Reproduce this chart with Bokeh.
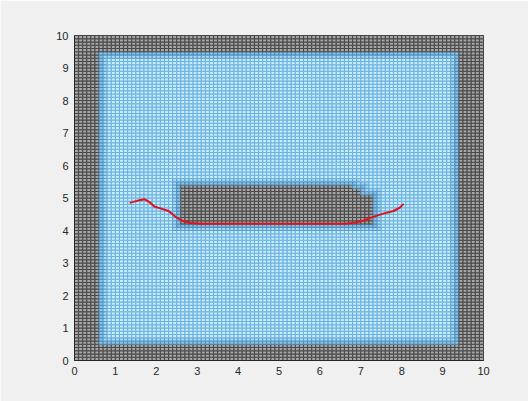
import numpy as np
from bokeh.plotting import figure
from bokeh.models import Range1d, FixedTicker, ColumnDataSource
from bokeh.embed import file_html
from bokeh.resources import INLINE

# ---- data ----
x_ticks = [0, 1, 2, 3, 4, 5, 6, 7, 8, 9, 10]
y_ticks = [0, 1, 2, 3, 4, 5, 6, 7, 8, 9, 10]
map_size = 10.0
cell_size = 0.1

# occupied (wall) band around the map: limits of free space
free_x = [0.6, 9.4]
free_y = [0.5, 9.5]

# obstacle blocks (x0, x1, y0, y1)
obstacles = [
    (2.6, 6.8, 4.2, 5.4),
    (6.8, 7.3, 4.2, 5.1),
    (6.8, 7.0, 5.1, 5.3),
]

# planned path
path_x = [1.35, 1.55, 1.72, 1.85, 1.95, 2.10, 2.30, 2.47, 2.65, 2.85, 3.10,
          3.60, 4.20, 4.80, 5.40, 6.00, 6.60, 6.85, 7.05, 7.30, 7.55, 7.80, 7.95, 8.05]
path_y = [4.85, 4.92, 4.96, 4.86, 4.74, 4.68, 4.60, 4.42, 4.29, 4.23, 4.21,
          4.21, 4.21, 4.21, 4.21, 4.21, 4.21, 4.24, 4.30, 4.42, 4.52, 4.60, 4.70, 4.82]

# colours
face_free, line_free = "#c6edfc", "#6cb0e0"
face_occ, line_occ = "#a6a6a6", "#474747"
face_h1, line_h1 = "#8cc4e6", "#4a88b8"
face_h2, line_h2 = "#aadbf4", "#5a9ccc"

# ---- build occupancy grid ----
n = int(round(map_size / cell_size))
centers = (np.arange(n) + 0.5) * cell_size
cx, cy = np.meshgrid(centers, centers)
occ = (cx < free_x[0]) | (cx > free_x[1]) | (cy < free_y[0]) | (cy > free_y[1])
for (x0, x1, y0, y1) in obstacles:
    occ |= (cx > x0) & (cx < x1) & (cy > y0) & (cy < y1)


def dilate(a):
    b = np.pad(a, 1, mode="edge")
    out = np.zeros_like(a)
    for dy in (0, 1, 2):
        for dx in (0, 1, 2):
            out |= b[dy:dy + a.shape[0], dx:dx + a.shape[1]]
    return out


d1 = dilate(occ)
d2 = dilate(d1)
h1 = d1 & ~occ
h2 = d2 & ~d1

faces = np.full(occ.shape, face_free, dtype=object)
lines = np.full(occ.shape, line_free, dtype=object)
faces[h2], lines[h2] = face_h2, line_h2
faces[h1], lines[h1] = face_h1, line_h1
faces[occ], lines[occ] = face_occ, line_occ

src = ColumnDataSource(dict(
    left=(cx - cell_size / 2).ravel(),
    right=(cx + cell_size / 2).ravel(),
    bottom=(cy - cell_size / 2).ravel(),
    top=(cy + cell_size / 2).ravel(),
    fc=faces.ravel().tolist(),
    lc=lines.ravel().tolist(),
))

# ---- figure ----
p = figure(width=528, height=401, output_backend="svg", toolbar_location=None,
           x_range=Range1d(0, 10), y_range=Range1d(0, 10),
           min_border_left=74, min_border_right=45, min_border_top=35, min_border_bottom=41)
p.frame_width = 409
p.frame_height = 325
p.background_fill_color = "white"
p.border_fill_color = "#f0f0f0"
p.outline_line_color = "#262626"
p.grid.visible = False

p.quad(left="left", right="right", bottom="bottom", top="top", source=src,
       fill_color="fc", line_color="lc", line_width=1)

p.line(path_x, path_y, line_color="#e3101d", line_width=2)

for ax in (p.xaxis[0], p.yaxis[0]):
    ax.major_label_text_font = "Liberation Sans"
    ax.major_label_text_font_size = "11px"
    ax.major_label_text_color = "#262626"
    ax.major_tick_out = 0
    ax.major_tick_in = 0
    ax.minor_tick_out = 0
    ax.minor_tick_in = 0
    ax.axis_line_color = "#262626"
    ax.major_label_standoff = 6
p.xaxis[0].ticker = FixedTicker(ticks=x_ticks)
p.yaxis[0].ticker = FixedTicker(ticks=y_ticks)

open("out.html", "w").write(file_html(p, INLINE))
